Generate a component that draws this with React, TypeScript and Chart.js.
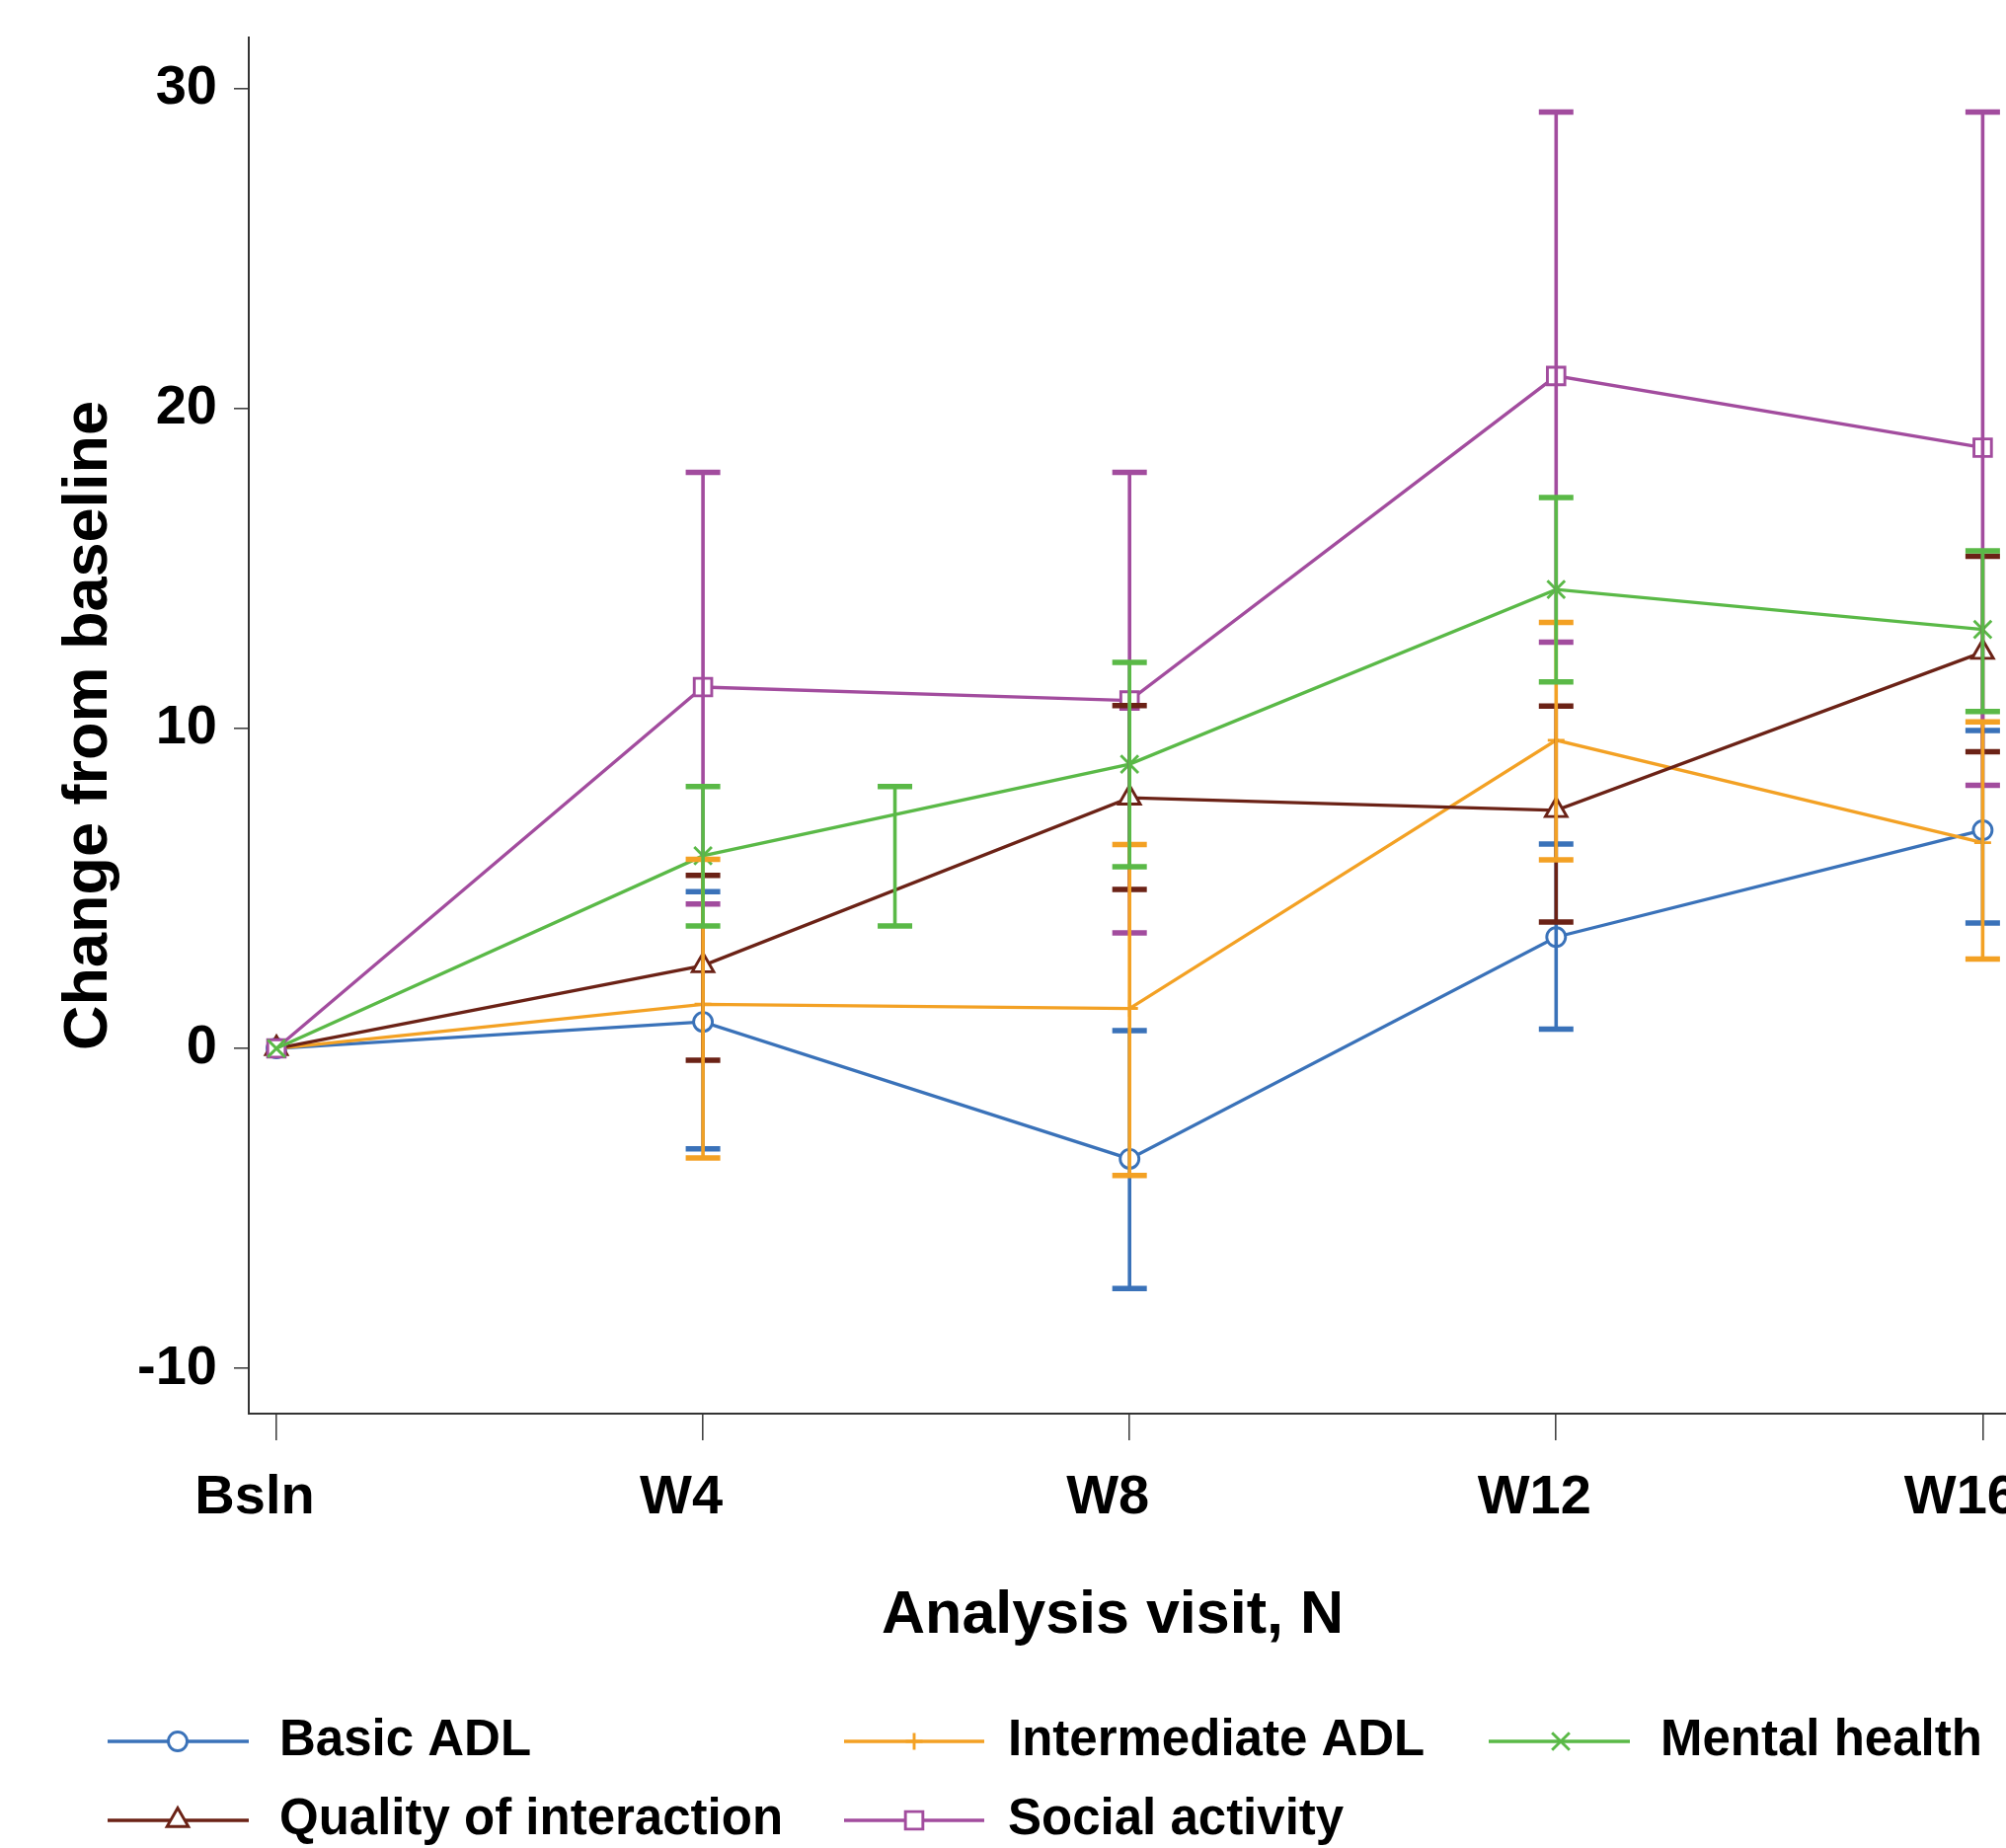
import React, { useEffect, useRef } from 'react';
import { Chart, registerables } from 'chart.js';

Chart.register(...registerables);

// ---------- data ----------
const visitLabels = ['Bsln', 'W4', 'W8', 'W12', 'W16'];
const visitPos = [0, 1, 2, 3, 4];
const yTickValues = [-10, 0, 10, 20, 30];

const basicMean = [0, 0.83, -3.45, 3.48, 6.82];
const basicLo = [null, -3.14, -7.5, 0.6, 3.92];
const basicHi = [null, 4.9, 0.56, 6.39, 9.93];

const interMean = [0, 1.38, 1.25, 9.63, 6.43];
const interLo = [null, -3.42, -3.97, 5.89, 2.79];
const interHi = [null, 5.91, 6.37, 13.31, 10.2];

const mentalMean = [0, 6.02, 8.88, 14.34, 13.09];
const mentalLo = [null, 3.83, 5.68, 11.45, 10.53];
const mentalHi = [null, 8.18, 12.06, 17.21, 15.55];

const qualityMean = [0, 2.59, 7.83, 7.44, 12.38];
const qualityLo = [null, -0.37, 4.97, 3.95, 9.27];
const qualityHi = [null, 5.41, 10.71, 10.7, 15.38];

const socialMean = [0, 11.29, 10.87, 21.01, 18.77];
const socialLo = [null, 4.51, 3.61, 12.69, 8.22];
const socialHi = [null, 18.0, 18.0, 29.26, 29.26];

// stray error bar drawn between W4 and W8 in the original
const strayBarX = [1.45];
const strayBarLo = [3.83];
const strayBarHi = [8.18];

const seriesNames = ['Basic ADL', 'Intermediate ADL', 'Mental health', 'Quality of interaction', 'Social activity'];

// ---------- styles ----------
const FONT = "'Liberation Sans', Arial, Helvetica, sans-serif";
const COLORS = {
  blue: '#3a72b9',
  orange: '#f3a124',
  green: '#5ab947',
  brown: '#6b2216',
  purple: '#a24c9e',
};

type Series = {
  name: string;
  color: string;
  style: string;
  radius: number;
  mean: number[];
  lo: (number | null)[];
  hi: (number | null)[];
  lineOrder: number;
  barOrder: number;
};

const series: Series[] = [
  { name: seriesNames[0], color: COLORS.blue, style: 'circle', radius: 9.5, mean: basicMean, lo: basicLo, hi: basicHi, lineOrder: 20, barOrder: 10 },
  { name: seriesNames[1], color: COLORS.orange, style: 'cross', radius: 8.5, mean: interMean, lo: interLo, hi: interHi, lineOrder: 19, barOrder: 7 },
  { name: seriesNames[2], color: COLORS.green, style: 'crossRot', radius: 12.5, mean: mentalMean, lo: mentalLo, hi: mentalHi, lineOrder: 16, barOrder: 6 },
  { name: seriesNames[3], color: COLORS.brown, style: 'triangle', radius: 12.5, mean: qualityMean, lo: qualityLo, hi: qualityHi, lineOrder: 18, barOrder: 9 },
  { name: seriesNames[4], color: COLORS.purple, style: 'rect', radius: 12.5, mean: socialMean, lo: socialLo, hi: socialHi, lineOrder: 17, barOrder: 8 },
];

const X_MIN = -0.0648;
const X_MAX = 4.212;
const Y_MIN = -11.41;
const Y_MAX = 31.585;

const LINE_W = 3.3;
const BAR_W = 3.6;
const CAP_W = 5.5;
const CAP_HALF = 17.5;
const MARKER_W = 2.9;

function errorBarData(xs: number[], lo: (number | null)[], hi: (number | null)[]) {
  const out: { x: number; y: number | null }[] = [];
  xs.forEach((x, i) => {
    if (lo[i] === null || hi[i] === null) return;
    out.push({ x, y: lo[i] as number });
    out.push({ x, y: hi[i] as number });
    out.push({ x, y: null });
  });
  return out;
}

function drawMarker(ctx: CanvasRenderingContext2D, style: string, x: number, y: number, r: number, color: string) {
  ctx.save();
  ctx.strokeStyle = color;
  ctx.fillStyle = '#ffffff';
  ctx.lineWidth = MARKER_W;
  ctx.beginPath();
  if (style === 'circle') {
    ctx.arc(x, y, r, 0, Math.PI * 2);
    ctx.fill();
    ctx.stroke();
  } else if (style === 'triangle') {
    for (let k = 0; k < 3; k++) {
      const a = (k * 2 * Math.PI) / 3;
      const px = x + Math.sin(a) * r;
      const py = y - Math.cos(a) * r;
      if (k === 0) ctx.moveTo(px, py);
      else ctx.lineTo(px, py);
    }
    ctx.closePath();
    ctx.fill();
    ctx.stroke();
  } else if (style === 'rect') {
    const s = r / Math.SQRT2;
    ctx.rect(x - s, y - s, 2 * s, 2 * s);
    ctx.fill();
    ctx.stroke();
  } else if (style === 'cross') {
    ctx.moveTo(x - r, y);
    ctx.lineTo(x + r, y);
    ctx.moveTo(x, y - r);
    ctx.lineTo(x, y + r);
    ctx.stroke();
  } else if (style === 'crossRot') {
    const d = Math.cos(Math.PI / 4) * r;
    ctx.moveTo(x - d, y - d);
    ctx.lineTo(x + d, y + d);
    ctx.moveTo(x - d, y + d);
    ctx.lineTo(x + d, y - d);
    ctx.stroke();
  }
  ctx.restore();
}

const legendLayout = [
  { col: 0, row: 0 },
  { col: 1, row: 0 },
  { col: 2, row: 0 },
  { col: 0, row: 1 },
  { col: 1, row: 1 },
];
const legendCols = [
  { x1: 109, x2: 252, mx: 180, tx: 283 },
  { x1: 855, x2: 997, mx: 926, tx: 1021 },
  { x1: 1508, x2: 1651, mx: 1581, tx: 1682 },
];
const legendRows = [1764, 1844];

const overlayPlugin = {
  id: 'overlayLegendTitle',
  afterDraw(chart: any) {
    const ctx: CanvasRenderingContext2D = chart.ctx;
    ctx.save();
    // x axis title
    ctx.fillStyle = '#000';
    ctx.font = `bold 61px ${FONT}`;
    ctx.textAlign = 'center';
    ctx.textBaseline = 'middle';
    ctx.fillText('Analysis visit, N', 1127, 1637);
    // legend
    series.forEach((s, i) => {
      const pos = legendLayout[i];
      const c = legendCols[pos.col];
      const y = legendRows[pos.row];
      ctx.strokeStyle = s.color;
      ctx.lineWidth = LINE_W;
      ctx.beginPath();
      ctx.moveTo(c.x1, y);
      ctx.lineTo(c.x2, y);
      ctx.stroke();
      drawMarker(ctx, s.style, c.mx, y, s.radius, s.color);
      ctx.fillStyle = '#000';
      ctx.font = `bold 51px ${FONT}`;
      ctx.textAlign = 'left';
      ctx.textBaseline = 'middle';
      ctx.fillText(s.name, c.tx, y);
    });
    ctx.restore();
  },
};

export default function App() {
  const canvasRef = useRef<HTMLCanvasElement | null>(null);

  useEffect(() => {
    if (!canvasRef.current) return;

    const lineSets = series.map((s) => ({
      type: 'line' as const,
      label: s.name,
      data: s.mean.map((v, i) => ({ x: visitPos[i], y: v })),
      borderColor: s.color,
      borderWidth: LINE_W,
      pointStyle: s.style,
      pointRadius: s.radius,
      pointBorderWidth: MARKER_W,
      pointBorderColor: s.color,
      pointBackgroundColor: '#ffffff',
      fill: false,
      tension: 0,
      order: s.lineOrder,
    }));

    const barSets = series.map((s) => ({
      type: 'line' as const,
      label: s.name + ' CI',
      data: errorBarData(visitPos, s.lo, s.hi),
      borderColor: s.color,
      borderWidth: BAR_W,
      pointStyle: 'line',
      pointRadius: CAP_HALF,
      pointBorderWidth: CAP_W,
      pointBorderColor: s.color,
      fill: false,
      spanGaps: false,
      tension: 0,
      order: s.barOrder,
    }));

    const straySet = {
      type: 'line' as const,
      label: 'Mental health CI (extra)',
      data: errorBarData(strayBarX, strayBarLo, strayBarHi),
      borderColor: COLORS.green,
      borderWidth: BAR_W,
      pointStyle: 'line',
      pointRadius: CAP_HALF,
      pointBorderWidth: CAP_W,
      pointBorderColor: COLORS.green,
      fill: false,
      spanGaps: false,
      tension: 0,
      order: 5,
    };

    const chart = new Chart(canvasRef.current, {
      type: 'line',
      data: { datasets: [...lineSets, ...barSets, straySet] as any },
      options: {
        responsive: false,
        maintainAspectRatio: false,
        animation: false,
        events: [],
        layout: { padding: { left: 0, top: 38, right: 100, bottom: 0 } },
        plugins: {
          legend: { display: false },
          tooltip: { enabled: false },
          title: { display: false },
        },
        scales: {
          x: {
            type: 'linear',
            min: X_MIN,
            max: X_MAX,
            afterBuildTicks: (scale: any) => {
              scale.ticks = visitPos.map((v) => ({ value: v }));
            },
            afterFit: (scale: any) => {
              scale.height = 440;
              scale.paddingLeft = 0;
              scale.paddingRight = 0;
            },
            ticks: {
              callback: (v: any) => visitLabels[Math.round(Number(v))] ?? '',
              font: { family: FONT, size: 56, weight: 'bold' },
              color: '#000',
              padding: 25,
              labelOffset: -22,
              maxRotation: 0,
              autoSkip: false,
            },
            grid: {
              display: true,
              drawOnChartArea: false,
              drawTicks: true,
              tickLength: 27,
              color: '#444',
              lineWidth: 1.6,
            },
            border: { display: true, color: '#333', width: 2 },
            title: { display: false },
          },
          y: {
            type: 'linear',
            min: Y_MIN,
            max: Y_MAX,
            afterBuildTicks: (scale: any) => {
              scale.ticks = yTickValues.map((v) => ({ value: v }));
            },
            afterFit: (scale: any) => {
              scale.width = 252;
              scale.paddingTop = 0;
              scale.paddingBottom = 0;
            },
            ticks: {
              callback: (v: any) => String(v),
              font: { family: FONT, size: 56, weight: 'bold' },
              color: '#000',
              padding: 17,
            },
            grid: {
              display: true,
              drawOnChartArea: false,
              drawTicks: true,
              tickLength: 15,
              color: '#444',
              lineWidth: 1.6,
            },
            border: { display: true, color: '#333', width: 2 },
            title: {
              display: true,
              text: 'Change from baseline',
              font: { family: FONT, size: 63, weight: 'bold' },
              color: '#000',
              padding: { top: 53, bottom: 0 },
            },
          },
        },
      } as any,
      plugins: [overlayPlugin],
    });

    return () => {
      chart.destroy();
    };
  }, []);

  return (
    <div
      style={{
        position: 'absolute',
        left: 0,
        top: 0,
        width: 2032,
        height: 1872,
        overflow: 'hidden',
        background: '#ffffff',
      }}
    >
      <canvas ref={canvasRef} width={2200} height={1872} style={{ display: 'block' }} />
    </div>
  );
}
